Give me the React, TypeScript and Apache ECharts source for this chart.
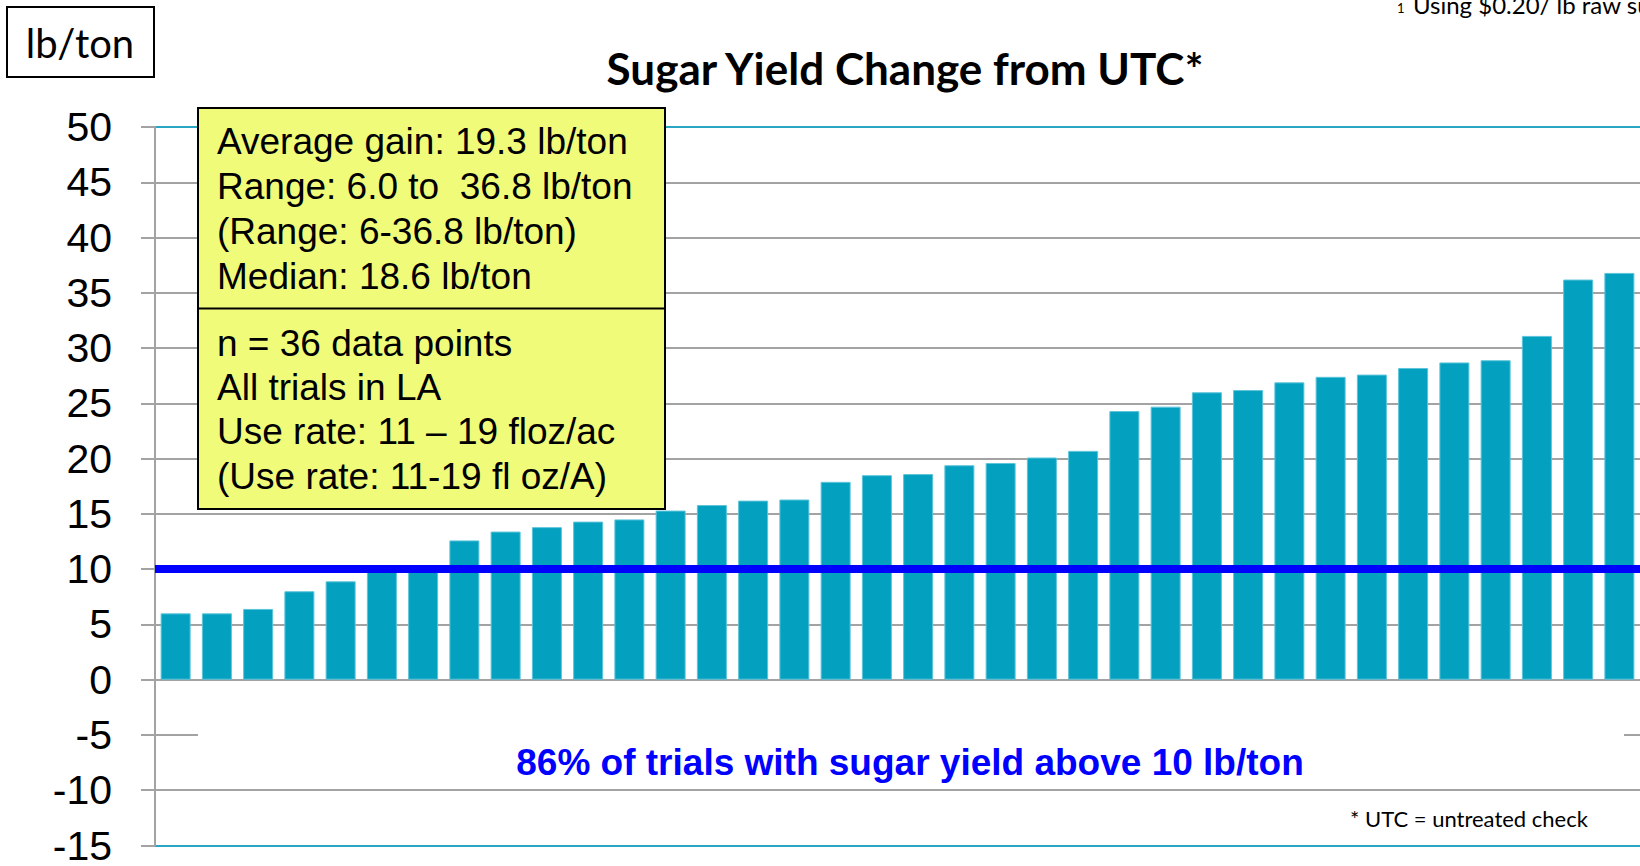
import React, { useEffect, useRef } from "react";
import * as echarts from "echarts";

const trials = [
  "1", "2", "3", "4", "5", "6", "7", "8", "9", "10", "11", "12",
  "13", "14", "15", "16", "17", "18", "19", "20", "21", "22", "23", "24",
  "25", "26", "27", "28", "29", "30", "31", "32", "33", "34", "35", "36",
];
const sugarGain = [
  6.0, 6.0, 6.4, 8.0, 8.9, 10.1, 10.2, 12.6, 13.4, 13.8, 14.3, 14.5,
  15.3, 15.8, 16.2, 16.3, 17.9, 18.5, 18.6, 19.4, 19.6, 20.1, 20.7, 24.3,
  24.7, 26.0, 26.2, 26.9, 27.4, 27.6, 28.2, 28.7, 28.9, 31.1, 36.2, 36.8,
];
const thresholdValue = 10;
const yTicks = { min: -15, max: 50, interval: 5 };

const titleText = "Sugar Yield Change from UTC*";
const unitText = "lb/ton";
const statsLines = [
  "Average gain: 19.3 lb/ton",
  "Range: 6.0 to  36.8 lb/ton",
  "(Range: 6-36.8 lb/ton)",
  "Median: 18.6 lb/ton",
];
const infoLines = [
  "n = 36 data points",
  "All trials in LA",
  "Use rate: 11 \u2013 19 floz/ac",
  "(Use rate: 11-19 fl oz/A)",
];
const summaryText = "86% of trials with sugar yield above 10 lb/ton";
const footnoteText = "* UTC = untreated check";
const priceNoteMark = "1";
const priceNoteText = "Using $0.20/ lb raw sugar";

const ARIAL = "'Liberation Sans', Arial, sans-serif";
const CAL = "Lato, 'Open Sans', sans-serif";
const GRAY = "#a3a3a3";
const TEAL = "#2aa6c4";

function txt(x: number, y: number, text: string, font: string, fill: string, align = "left", va = "middle") {
  return {
    type: "text",
    x,
    y,
    z: 120,
    style: {
      text,
      font,
      fill,
      align,
      verticalAlign: va,
      textAlign: align,
      textVerticalAlign: va,
    },
  };
}

export default function App() {
  const ref = useRef<HTMLDivElement>(null);
  useEffect(() => {
    if (!ref.current) return;
    const chart = echarts.init(ref.current, undefined, { renderer: "svg" });
    const splitColors = [TEAL];
    for (let i = 0; i < 12; i++) splitColors.push(GRAY);
    splitColors.push(TEAL);

    const statsY = [141, 186, 231, 276];
    const infoY = [343, 387, 431, 476];

    const graphics: any[] = [
      { type: "rect", z: 110, shape: { x: 198, y: 733, width: 1426, height: 52 }, style: { fill: "#ffffff" } },
      txt(910, 762, summaryText, `bold 37px ${ARIAL}`, "#0000ff", "center"),
      { type: "rect", z: 110, shape: { x: 7, y: 7, width: 147, height: 70 }, style: { fill: "#ffffff", stroke: "#000000", lineWidth: 2 } },
      txt(80, 43, unitText, `40px ${CAL}`, "#000000", "center"),
      txt(905, 68, titleText, `bold 44px ${CAL}`, "#000000", "center"),
      { type: "rect", z: 110, shape: { x: 198, y: 108, width: 467, height: 401 }, style: { fill: "#f0fb7a", stroke: "#000000", lineWidth: 2 } },
      { type: "line", z: 111, shape: { x1: 198, y1: 308.5, x2: 665, y2: 308.5 }, style: { stroke: "#000000", lineWidth: 2 } },
      txt(1350, 818, footnoteText, `22px ${CAL}`, "#000000", "left"),
      txt(1397, 8, priceNoteMark, `13px ${CAL}`, "#000000", "left"),
      txt(1413, 4, priceNoteText, `24px ${CAL}`, "#000000", "left"),
    ];
    statsLines.forEach((s, i) => graphics.push(txt(217, statsY[i], s, `37px ${ARIAL}`, "#000000")));
    infoLines.forEach((s, i) => graphics.push(txt(217, infoY[i], s, `37px ${ARIAL}`, "#000000")));

    chart.setOption({
      animation: false,
      grid: { left: 155, top: 127, width: 1490, bottom: 15, containLabel: false },
      xAxis: {
        type: "category",
        data: trials,
        boundaryGap: true,
        axisLine: { show: false },
        axisTick: { show: false },
        axisLabel: { show: false },
        splitLine: { show: false },
      },
      yAxis: {
        type: "value",
        min: yTicks.min,
        max: yTicks.max,
        interval: yTicks.interval,
        axisLine: { show: true, lineStyle: { color: GRAY, width: 2 } },
        axisTick: { show: true, inside: false, length: 14, lineStyle: { color: GRAY, width: 2 } },
        axisLabel: {
          margin: 43,
          color: "#000000",
          fontSize: 41,
          fontFamily: ARIAL,
        },
        splitLine: { show: true, lineStyle: { color: splitColors, width: 2 } },
      },
      series: [
        {
          type: "bar",
          data: sugarGain,
          barWidth: 30,
          itemStyle: { color: "#03a0bf", borderColor: "#5cc4da", borderWidth: 1 },
          markLine: {
            silent: true,
            symbol: "none",
            label: { show: false },
            lineStyle: { color: "#0000ff", width: 8, type: "solid" },
            data: [{ yAxis: thresholdValue }],
          },
        },
      ],
      graphic: graphics,
    });
    return () => chart.dispose();
  }, []);
  return (
    <div
      ref={ref}
      style={{ position: "fixed", left: 0, top: 0, width: 1640, height: 866, background: "#ffffff" }}
    />
  );
}
